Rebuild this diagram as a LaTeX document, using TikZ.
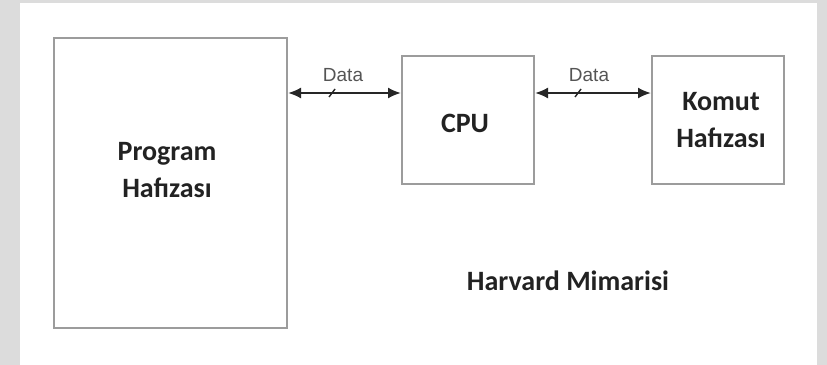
\documentclass[tikz,border=0pt]{standalone}
\usepackage{fontspec}
\setmainfont{Carlito}
\newfontfamily\datafont{Liberation Sans}
\usetikzlibrary{arrows.meta}
\definecolor{bggray}{HTML}{DCDCDC}
\definecolor{boxgray}{HTML}{9C9C9C}
\definecolor{txtdark}{HTML}{222222}
\definecolor{datagray}{HTML}{555555}
\tikzset{
  blockbox/.style={draw=boxgray, line width=2pt, fill=white, inner sep=0pt},
  blocktext/.style={font=\fontsize{28}{37}\selectfont\bfseries, text=txtdark, align=center, inner sep=0pt},
  bus/.style={draw=black!85, line width=2pt, {Latex[length=13pt,width=11pt]}-{Latex[length=13pt,width=11pt]}},
  buslabel/.style={font=\datafont\fontsize{19}{22}\selectfont, text=datagray, inner sep=0pt},
  tick/.style={draw=black!85, line width=1.4pt}
}
\begin{document}
\begin{tikzpicture}[x=1pt,y=-1pt]
  \useasboundingbox (0,0) rectangle (827,364);
  \fill[bggray] (-5,-5) rectangle (832,370);
  \fill[white] (20,3) rectangle (817,370);

  \node[blockbox, minimum width=233pt, minimum height=290pt] (prog) at (170.5,183) {};
  \node[blocktext] (progtext) at (167,170) {Program\\Hafızası};
  \node[blockbox, minimum width=132pt, minimum height=128pt] (cpu) at (468,120) {};
  \node[blocktext] (cputext) at (465,123) {CPU};
  \node[blockbox, minimum width=132pt, minimum height=128pt] (komut) at (718,120) {};
  \node[blocktext] (komuttext) at (721,120) {Komut\\Hafızası};

  \coordinate (pr) at (prog.east |- 0,93);
  \coordinate (cl) at (cpu.west |- 0,93);
  \coordinate (cr) at (cpu.east |- 0,93);
  \coordinate (kl) at (komut.west |- 0,93);
  \draw[bus] (pr) -- (cl);
  \draw[bus] (cr) -- (kl);

  \node[buslabel] (d1) at (343,75) {Data};
  \node[buslabel] (d2) at (589,75) {Data};
  \coordinate (t1) at (332,93);
  \coordinate (t2) at (578,93);
  \draw[tick] ([shift={(-3,4)}]t1) -- ([shift={(3,-4)}]t1);
  \draw[tick] ([shift={(-3,4)}]t2) -- ([shift={(3,-4)}]t2);

  \node[blocktext] (title) at (568,281) {Harvard Mimarisi};
\end{tikzpicture}
\end{document}
